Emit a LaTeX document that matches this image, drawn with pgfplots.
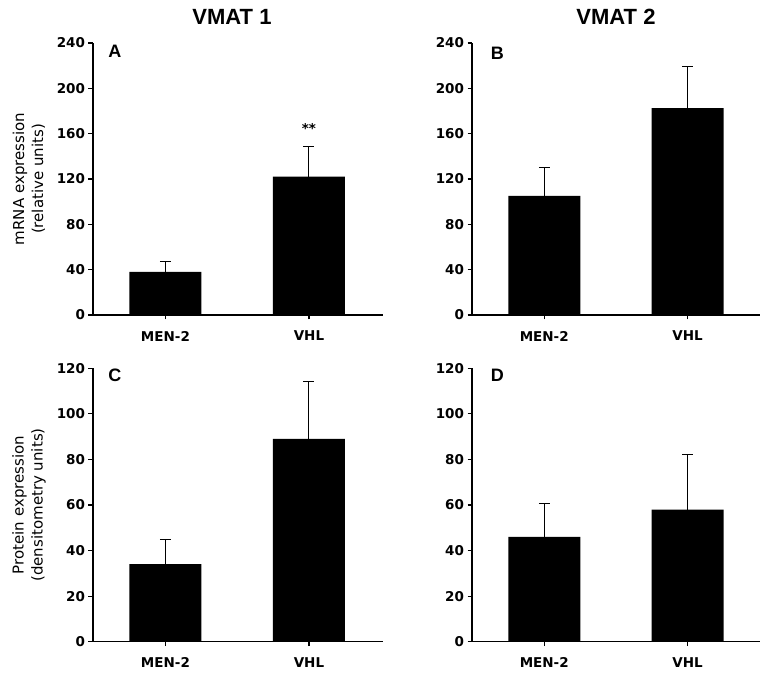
\documentclass[border=0pt]{standalone}
\usepackage{fontspec}
\setmainfont{DejaVu Sans}
\newfontfamily\arialfont{Liberation Sans}
\usepackage{pgfplots}
\pgfplotsset{compat=1.18}
\pgfplotsset{
  panel/.style={
    scale only axis,
    axis lines=left,
    axis line style={-, line width=1.5pt, black},
    ymin=0,
    xtick={0,1}, xticklabels={MEN-2,VHL},
    tick align=outside, major tick length=4.5pt,
    tick style={line width=1.2pt, black},
    /pgf/number format/assume math mode=true,
    ticklabel style={font=\bfseries\fontsize{13.5}{15}\selectfont},
    xticklabel style={yshift=-8pt},
    ylabel style={font=\fontsize{15}{19}\selectfont, align=center, at={(axis description cs:-0.2207,0.5)}, anchor=center},
    title style={font=\arialfont\bfseries\fontsize{22}{26}\selectfont, at={(axis description cs:0.5,1)}, anchor=center, yshift=20pt},
  },
  leftcol/.style={width=290pt, xmin=-0.505, xmax=1.516},
  rightcol/.style={width=288pt, xmin=-0.504, xmax=1.505},
  toprow/.style={height=272pt, ymax=240, ytick={0,40,...,240}},
  botrow/.style={height=273.4pt, ymax=120, ytick={0,20,...,120}},
  bars/.style={ybar, bar width=72pt, fill=black, draw=none,
    error bars/.cd, y dir=plus, y explicit, error mark=|,
    error bar style={line width=1pt, black},
    error mark options={line width=1pt, mark size=5.5pt, black}},
}
\tikzset{letter/.style={anchor=west, inner sep=0pt, font=\arialfont\bfseries\fontsize{18}{20}\selectfont}}
\begin{document}
\begin{tikzpicture}
\useasboundingbox (0pt,0pt) rectangle (771pt,680pt);
% Panel A
\begin{axis}[panel, leftcol, toprow, at={(93pt,365pt)}, anchor=south west,
  title={VMAT 1}, title style={xshift=-6pt}, ylabel={mRNA expression\\(relative units)}]
\addplot[bars] coordinates {(0,38) +- (0,9) (1,122) +- (0,26.5)};
\node[letter] at (rel axis cs:0.052,0.969) {A};
\node[anchor=base, inner sep=0pt, font=\bfseries\fontsize{13.5}{15}\selectfont] at (axis cs:1,160) {**};
\end{axis}
% Panel B
\begin{axis}[panel, rightcol, toprow, at={(472pt,365pt)}, anchor=south west,
  title={VMAT 2}]
\addplot[bars] coordinates {(0,105) +- (0,25) (1,182.5) +- (0,36.5)};
\node[letter] at (rel axis cs:0.065,0.962) {B};
\end{axis}
% Panel C
\begin{axis}[panel, leftcol, botrow, at={(93pt,38.3pt)}, anchor=south west,
  ylabel={Protein expression\\(densitometry units)}]
\addplot[bars] coordinates {(0,34) +- (0,11) (1,89) +- (0,25)};
\node[letter] at (rel axis cs:0.052,0.975) {C};
\end{axis}
% Panel D
\begin{axis}[panel, rightcol, botrow, at={(472pt,38.3pt)}, anchor=south west]
\addplot[bars] coordinates {(0,46) +- (0,14.5) (1,58) +- (0,24)};
\node[letter] at (rel axis cs:0.065,0.975) {D};
\end{axis}
\end{tikzpicture}
\end{document}
